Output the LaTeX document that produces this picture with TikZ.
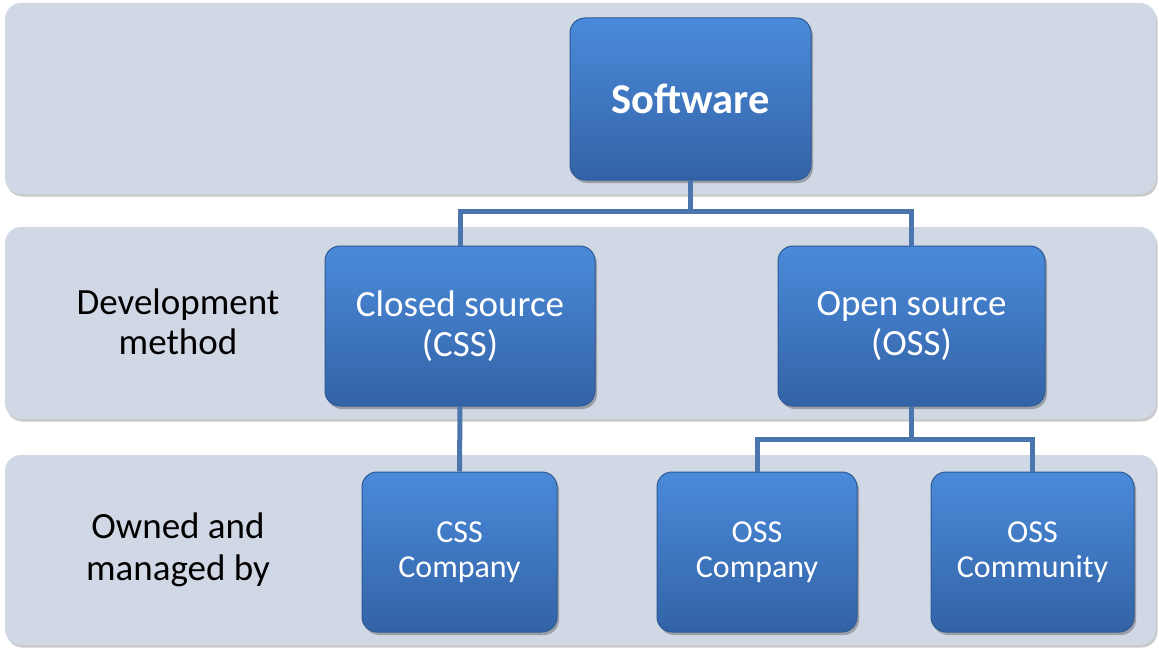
\documentclass[tikz,border=0pt]{standalone}
\usepackage{fontspec}
\setmainfont{Carlito}
\usetikzlibrary{shadows}
\definecolor{bandfill}{HTML}{D0D7E5}
\definecolor{boxtop}{HTML}{4A8ADA}
\definecolor{boxbot}{HTML}{3363A6}
\definecolor{boxedge}{HTML}{2E5A94}
\definecolor{linkcol}{HTML}{4A75AD}
\tikzset{
  band/.style={fill=bandfill, rounded corners=16pt, drop shadow={shadow xshift=1.5pt, shadow yshift=-2.5pt, opacity=0.35, fill=black!60}},
  bluebox/.style={draw=boxedge, line width=1pt, top color=boxtop, bottom color=boxbot, rounded corners=15pt,
    text=white, align=center, inner sep=0pt,
    drop shadow={shadow xshift=2pt, shadow yshift=-3pt, opacity=0.4, fill=black!70}},
  toptext/.style={font=\fontsize{42.5}{48}\selectfont\bfseries},
  midtext/.style={font=\fontsize{37}{40}\selectfont},
  lowtext/.style={font=\fontsize{32}{35}\selectfont},
  sidetext/.style={align=center, text=black},
  link/.style={draw=linkcol, line width=5pt}
}
\begin{document}
\begin{tikzpicture}[x=1pt, y=-1pt]
\useasboundingbox (0,0) rectangle (1159,650);
% bands
\path[band] (5,3) rectangle (1156,194);
\path[band] (5,227) rectangle (1156,419);
\path[band] (5,455) rectangle (1156,645);
% side labels
\node[sidetext, font=\fontsize{37}{40}\selectfont] (lblmid) at (178,322) {Development\\method};
\node[sidetext, font=\fontsize{37}{42}\selectfont] (lbllow) at (178,550) {Owned and\\managed by};
% boxes
\node[bluebox, toptext, minimum width=241pt, minimum height=162pt] (sw) at (690.5,99) {Software};
\node[bluebox, midtext, minimum width=270pt, minimum height=160pt] (css) at (460,326) {Closed source\\(CSS)};
\node[bluebox, midtext, minimum width=267pt, minimum height=160pt] (oss) at (911.5,326) {Open source\\(OSS)};
\node[bluebox, lowtext, minimum width=195pt, minimum height=160pt] (cssco) at (459.5,552) {CSS\\Company};
\node[bluebox, lowtext, minimum width=200pt, minimum height=160pt] (ossco) at (757,552) {OSS\\Company};
\node[bluebox, lowtext, minimum width=203pt, minimum height=160pt] (osscom) at (1032.5,552) {OSS\\Community};
% connectors
\draw[link] (sw.south) -- ++(0,31) -| (css.north);
\draw[link] (sw.south) -- ++(0,31) -| (oss.north);
\draw[link] (css.south) -- (cssco.north);
\draw[link] (oss.south) -- ++(0,33) -| (ossco.north);
\draw[link] (oss.south) -- ++(0,33) -| (osscom.north);
\end{tikzpicture}
\end{document}
